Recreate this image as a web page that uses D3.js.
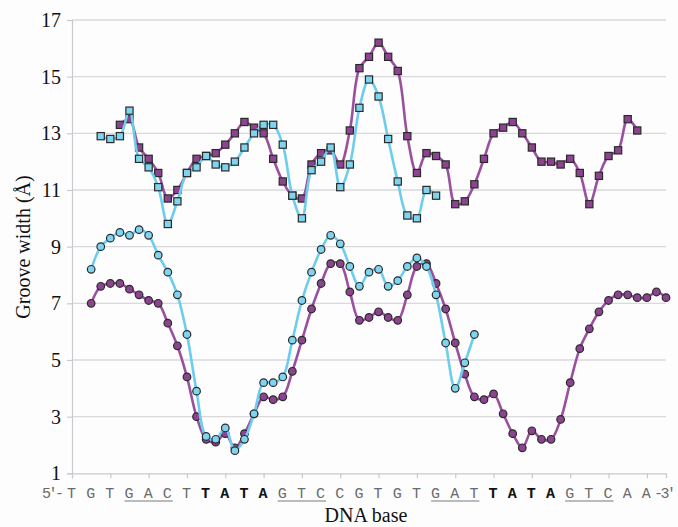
<!DOCTYPE html>
<html>
<head>
<meta charset="utf-8">
<script src="https://cdn.jsdelivr.net/npm/d3@7/dist/d3.min.js"></script>
<style>
  html, body { margin: 0; padding: 0; background: #ffffff; }
  svg { display: block; }
</style>
</head>
<body>
<div id="chart"></div>
<script>
// groove widths, one value every half base step (index = position along the axis)
const majorPurpleStart = 5;
const majorPurple = [13.3, 13.5, 12.5, 12.1, 11.6, 10.7, 11.0, 11.6, 12.1, 12.2, 12.3, 12.6, 13.0, 13.4, 13.2, 13.0,
  12.1, 11.3, 10.8, 10.7, 11.9, 12.3, 12.4, 11.9, 13.1, 15.3, 15.7, 16.2, 15.7, 15.2, 12.9, 11.6, 12.3, 12.2,
  11.9, 10.5, 10.6, 11.2, 12.1, 13.0, 13.2, 13.4, 13.0, 12.5, 12.0, 12.0, 11.9, 12.1, 11.6, 10.5, 11.5, 12.2,
  12.4, 13.5, 13.1];

const majorCyanStart = 3;
const majorCyan = [12.9, 12.8, 12.9, 13.8, 12.1, 11.8, 11.1, 9.8, 10.6, 11.6, 11.8, 12.2, 11.9, 11.8, 12.0, 12.5,
  13.0, 13.3, 13.3, 12.6, 10.8, 10.0, 11.7, 12.0, 12.5, 11.1, 11.9, 13.9, 14.9, 14.3, 12.8, 11.3, 10.1, 10.0,
  11.0, 10.8];

const minorCyanStart = 2;
const minorCyan = [8.2, 9.0, 9.3, 9.5, 9.4, 9.6, 9.4, 8.7, 8.1, 7.3, 5.9, 3.9, 2.3, 2.2, 2.6, 1.8, 2.2, 3.1, 4.2,
  4.2, 4.4, 5.7, 7.1, 8.1, 8.9, 9.4, 9.1, 8.3, 7.6, 8.1, 8.2, 7.6, 7.8, 8.3, 8.6, 8.3, 7.3, 5.6, 4.0, 4.9, 5.9];

const minorPurpleStart = 2;
const minorPurple = [7.0, 7.6, 7.7, 7.7, 7.5, 7.3, 7.1, 7.0, 6.3, 5.5, 4.4, 3.0, 2.2, 2.1, 2.4, 1.9, 2.4, 3.1, 3.7,
  3.6, 3.7, 4.6, 5.7, 6.8, 7.7, 8.4, 8.4, 7.4, 6.4, 6.5, 6.7, 6.5, 6.4, 7.3, 8.3, 8.4, 7.7, 6.8, 5.6, 4.5, 3.7,
  3.6, 3.8, 3.1, 2.4, 1.9, 2.5, 2.2, 2.2, 2.9, 4.2, 5.4, 6.1, 6.7, 7.1, 7.3, 7.3, 7.2, 7.2, 7.4, 7.2];

const yTicks = [1, 3, 5, 7, 9, 11, 13, 15, 17];
const bases = "TGTGACTTATAGTCCGTGTGATTATAGTCAA".split("");
const boldBases = [7, 8, 9, 10, 22, 23, 24, 25];
const underlined = [[3, 5], [11, 13], [19, 21], [26, 28]];

const palette = {
  purpleLine: "#9a509f",
  purpleFill: "#8c4390",
  cyanLine: "#6ccdec",
  cyanFill: "#7fd4ef",
  marker: "#2a2a2a",
  grid: "#d9d9dd",
  axis: "#c9c9d0",
  text: "#111111",
  seq: "#6a6a6a"
};

const width = 678;
const height = 527;
const plotLeft = 72;
const plotRight = 666;
const plotTop = 20;
const plotBottom = 473.3;

const svg = d3.select("#chart").append("svg")
  .attr("width", width)
  .attr("height", height);

svg.append("rect").attr("width", width).attr("height", height).attr("fill", "#fdfdfe");

const x = d3.scaleLinear().domain([0, 62]).range([plotLeft, plotRight]);
const y = d3.scaleLinear().domain([1, 17]).range([plotBottom, plotTop]);

// gridlines
svg.append("g")
  .selectAll("line")
  .data(yTicks.slice(1))
  .join("line")
  .attr("x1", plotLeft)
  .attr("x2", plotRight)
  .attr("y1", (d) => y(d))
  .attr("y2", (d) => y(d))
  .attr("stroke", palette.grid)
  .attr("stroke-width", 1.3);

// y axis
const yAxis = svg.append("g")
  .attr("transform", `translate(${plotLeft},0)`)
  .call(d3.axisLeft(y).tickValues(yTicks).tickSize(5).tickPadding(6));
yAxis.select(".domain").attr("stroke", palette.axis).attr("stroke-width", 1.2);
yAxis.selectAll(".tick line").attr("stroke", palette.axis).attr("stroke-width", 1.2);
yAxis.selectAll(".tick text")
  .attr("font-family", "'Liberation Serif', 'Times New Roman', serif")
  .attr("font-size", 20)
  .attr("fill", palette.text);

// x axis
const xAxis = svg.append("g")
  .attr("transform", `translate(0,${plotBottom})`)
  .call(d3.axisBottom(x).tickValues(d3.range(0, 63, 4)).tickSize(5).tickFormat(""));
xAxis.select(".domain").attr("stroke", palette.axis).attr("stroke-width", 1.2);
xAxis.selectAll(".tick line").attr("stroke", palette.axis).attr("stroke-width", 1.2);

function toPoints(values, start) {
  return values.map((v, i) => ({ i: start + i, v }));
}

const line = d3.line()
  .x((d) => x(d.i))
  .y((d) => y(d.v))
  .curve(d3.curveCatmullRom.alpha(0.5));

function drawSeries(values, start, color, fill, shape) {
  const pts = toPoints(values, start);
  svg.append("path")
    .datum(pts)
    .attr("d", line)
    .attr("fill", "none")
    .attr("stroke", color)
    .attr("stroke-width", 2.6);
  const g = svg.append("g");
  if (shape === "square") {
    g.selectAll("rect")
      .data(pts)
      .join("rect")
      .attr("x", (d) => x(d.i) - 3.6)
      .attr("y", (d) => y(d.v) - 3.6)
      .attr("width", 7.2)
      .attr("height", 7.2)
      .attr("fill", fill)
      .attr("stroke", palette.marker)
      .attr("stroke-width", 1.2);
  } else {
    g.selectAll("circle")
      .data(pts)
      .join("circle")
      .attr("cx", (d) => x(d.i))
      .attr("cy", (d) => y(d.v))
      .attr("r", 3.8)
      .attr("fill", fill)
      .attr("stroke", palette.marker)
      .attr("stroke-width", 1.2);
  }
}

drawSeries(majorPurple, majorPurpleStart, palette.purpleLine, palette.purpleFill, "square");
drawSeries(minorPurple, minorPurpleStart, palette.purpleLine, palette.purpleFill, "circle");
drawSeries(majorCyan, majorCyanStart, palette.cyanLine, palette.cyanFill, "square");
drawSeries(minorCyan, minorCyanStart, palette.cyanLine, palette.cyanFill, "circle");

// sequence under the axis
const seqY = 498;
const mono = "'Liberation Mono', 'Courier New', monospace";
svg.append("g")
  .selectAll("text")
  .data(bases)
  .join("text")
  .attr("x", (d, k) => x(2 * k) - 0.5)
  .attr("y", seqY)
  .attr("text-anchor", "middle")
  .attr("font-family", mono)
  .attr("font-size", 15)
  .attr("font-weight", (d, k) => (boldBases.includes(k) ? 700 : 400))
  .attr("fill", (d, k) => (boldBases.includes(k) ? palette.text : palette.seq))
  .text((d) => d);

svg.append("text")
  .attr("x", 42)
  .attr("y", seqY)
  .attr("textLength", 22)
  .attr("lengthAdjust", "spacing")
  .attr("font-family", mono)
  .attr("font-size", 15)
  .attr("fill", palette.seq)
  .text("5\u2032-");

svg.append("text")
  .attr("x", 654)
  .attr("y", seqY)
  .attr("textLength", 22)
  .attr("lengthAdjust", "spacing")
  .attr("font-family", mono)
  .attr("font-size", 15)
  .attr("fill", palette.seq)
  .text("-3\u2032");

svg.append("g")
  .selectAll("line")
  .data(underlined)
  .join("line")
  .attr("x1", (d) => x(2 * d[0]) - 5)
  .attr("x2", (d) => x(2 * d[1]) + 5)
  .attr("y1", seqY + 3)
  .attr("y2", seqY + 3)
  .attr("stroke", "#7a7a7a")
  .attr("stroke-width", 1.2);

// axis titles
svg.append("text")
  .attr("x", 366)
  .attr("y", 522)
  .attr("text-anchor", "middle")
  .attr("font-family", "'Liberation Serif', 'Times New Roman', serif")
  .attr("font-size", 20)
  .attr("fill", palette.text)
  .text("DNA base");

svg.append("text")
  .attr("transform", "translate(30,247) rotate(-90)")
  .attr("text-anchor", "middle")
  .attr("font-family", "'Liberation Serif', 'Times New Roman', serif")
  .attr("font-size", 20)
  .attr("fill", palette.text)
  .text("Groove width (\u00c5)");
</script>
</body>
</html>
